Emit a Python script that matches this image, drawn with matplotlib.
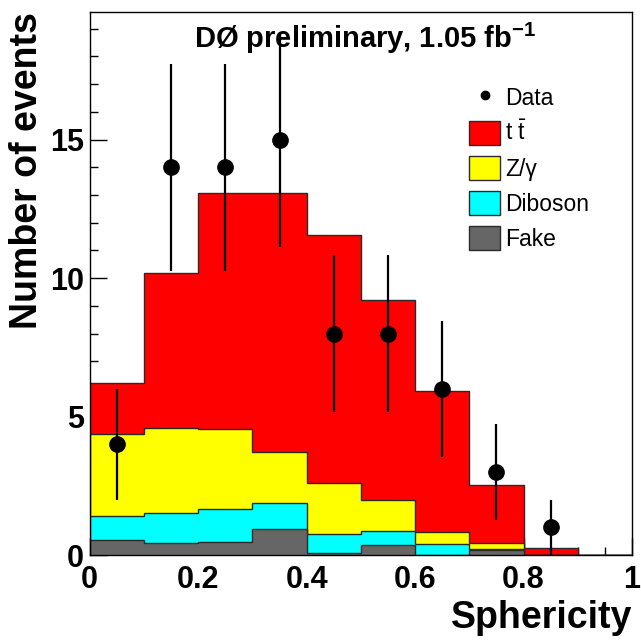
"""Sphericity distribution, D0 preliminary 1.05 fb^-1: stacked MC with data points."""

import matplotlib

matplotlib.use("Agg")
import matplotlib.pyplot as plt
import numpy as np
from matplotlib.lines import Line2D
from matplotlib.patches import Patch
from matplotlib.ticker import MultipleLocator

plt.rcParams["font.family"] = ["Liberation Sans", "DejaVu Sans"]
plt.rcParams["mathtext.fontset"] = "custom"
plt.rcParams["mathtext.rm"] = "Liberation Sans"
plt.rcParams["mathtext.bf"] = "Liberation Sans:bold"

# bin edges 0..1 in steps of 0.1
bin_edges = [0.0, 0.1, 0.2, 0.3, 0.4, 0.5, 0.6, 0.7, 0.8, 0.9, 1.0]

# per-component yields
fake = [0.56, 0.42, 0.46, 0.93, 0.08, 0.37, 0.0, 0.17, 0.0, 0.0]
diboson = [0.84, 1.09, 1.21, 0.95, 0.69, 0.49, 0.39, 0.06, 0.0, 0.0]
zgamma = [2.96, 3.07, 2.88, 1.83, 1.83, 1.12, 0.45, 0.19, 0.0, 0.0]
ttbar = [1.84, 5.59, 8.53, 9.37, 8.94, 7.24, 5.08, 2.12, 0.27, 0.0]

# data
data_x = [0.05, 0.15, 0.25, 0.35, 0.45, 0.55, 0.65, 0.75, 0.85]
data_y = [4, 14, 14, 15, 8, 8, 6, 3, 1]
data_err = [2.0, 3.74, 3.74, 3.87, 2.83, 2.83, 2.45, 1.73, 1.0]

xtick_vals = [0.0, 0.2, 0.4, 0.6, 0.8, 1.0]
xtick_labels = ["0", "0.2", "0.4", "0.6", "0.8", "1"]
ytick_vals = [0, 5, 10, 15]

components = [
    ("Fake", fake, "#666666"),
    ("Diboson", diboson, "#00ffff"),
    (r"Z/γ", zgamma, "#ffff00"),
    (r"t $\bar{\mathrm{t}}$", ttbar, "#ff0000"),
]

fig = plt.figure(figsize=(6.41, 6.41), dpi=100)
ax = fig.add_axes([0.140, 0.134, 0.846, 0.847])

# ROOT style: each cumulative histogram filled from zero, drawn top-down
stack = np.cumsum([c[1] for c in components], axis=0)
for (label, _, color), cum in reversed(list(zip(components, stack))):
    ax.stairs(cum, bin_edges, baseline=0, fill=True, facecolor=color,
              edgecolor="#2a2a2a", linewidth=1.0, zorder=2)

ax.errorbar(data_x, data_y, yerr=data_err, fmt="o", color="black",
            markersize=11, elinewidth=1.6, capsize=0, zorder=4, clip_on=False)

ax.set_xlim(0, 1)
ax.set_ylim(0, 19.6)
ax.set_xticks(xtick_vals, xtick_labels)
ax.set_yticks(ytick_vals)
ax.xaxis.set_minor_locator(MultipleLocator(0.05))
ax.yaxis.set_minor_locator(MultipleLocator(1))
ax.tick_params(which="both", direction="in", top=False, right=False,
               width=1.0, labelsize=22)
ax.tick_params(axis="x", which="major", length=12, pad=7)
ax.tick_params(axis="x", which="minor", length=6)
ax.tick_params(axis="y", which="major", length=12, pad=4)
ax.tick_params(axis="y", which="minor", length=6)
for lab in ax.get_xticklabels() + ax.get_yticklabels():
    lab.set_fontweight("bold")
for sp in ax.spines.values():
    sp.set_linewidth(1.0)
    sp.set_zorder(5)

ax.set_xlabel("Sphericity", fontsize=27, fontweight="bold", loc="right", labelpad=4)
ax.set_ylabel("Number of events", fontsize=27, fontweight="bold", loc="top", labelpad=4)

ax.text(0.507, 0.952, r"DØ preliminary, 1.05 fb$^{\mathbf{-1}}$", transform=ax.transAxes,
        ha="center", va="center", fontsize=21, fontweight="bold", zorder=6)

handles = [Line2D([], [], marker="o", ls="none", color="black", markersize=6)]
labels = ["Data"]
for label, _, color in reversed(components):
    handles.append(Patch(facecolor=color, edgecolor="#2a2a2a", linewidth=1.0))
    labels.append(label)
ax.legend(handles, labels, loc="upper left", bbox_to_anchor=(0.70, 0.865),
          frameon=False, fontsize=16.5, handlelength=1.35, handleheight=1.25,
          handletextpad=0.2, labelspacing=0.45, borderpad=0, borderaxespad=0)

fig.savefig("out.png", dpi=100)
